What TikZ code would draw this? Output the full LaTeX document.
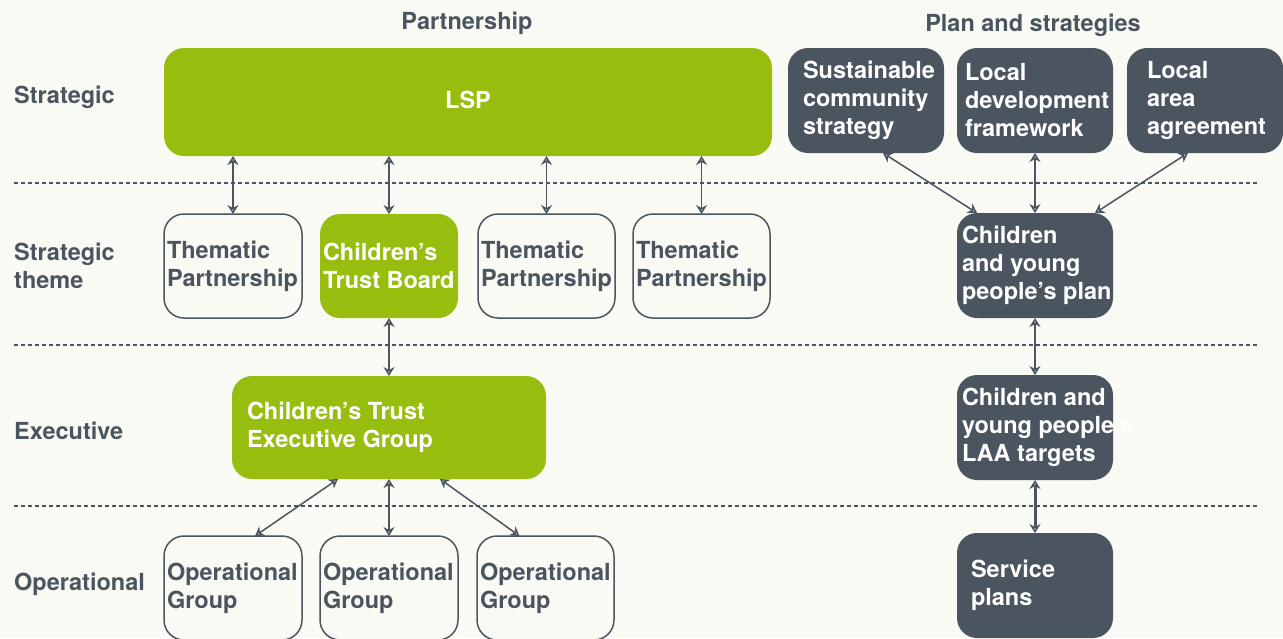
\documentclass[tikz,border=0pt]{standalone}
\usepackage{fontspec}
\setmainfont{TeX Gyre Heros}
\usetikzlibrary{arrows.meta}
\usetikzlibrary{positioning}
\definecolor{lspgreen}{HTML}{97BD0E}
\definecolor{slate}{HTML}{4B5560}
\definecolor{paper}{HTML}{F9FAF3}

\begin{document}
\begin{tikzpicture}[x=1pt, y=-1pt,
    every node/.style={font=\bfseries\fontsize{23.5}{28}\selectfont, text=slate},
    box/.style={rounded corners=20pt, minimum height=104pt, text width=130pt,
      inner xsep=4pt, inner ysep=0pt, outer sep=0pt, align=flush left},
    openbox/.style={box, draw=slate, line width=1.5pt, fill=paper},
    greenbox/.style={box, fill=lspgreen, text=white},
    slatebox/.style={box, fill=slate, text=white, minimum height=105pt},
    rowlabel/.style={anchor=west, align=left, inner sep=0pt},
    link/.style={draw=slate, line width=1.5pt, {Stealth[open, length=9pt, width=11pt, inset=3pt]}-{Stealth[open, length=9pt, width=11pt, inset=3pt]}},
    sep/.style={slate, line width=1.2pt, dash pattern=on 4pt off 3pt}]
      \useasboundingbox (0,0) rectangle (1283,638);
      \clip (0,0) rectangle (1283,638);
      \fill[paper] (0,0) rectangle (1283,638);

      \draw[sep] (14,183) -- (1258,183);
      \draw[sep] (14,345) -- (1258,345);
      \draw[sep] (14,506) -- (1258,506);

      \node (hpart) at (467,23) {Partnership};
      \node (hplan) at (1033,25) {Plan and strategies};

      \node[rowlabel] (rstrat) at (14,97) {Strategic};
      \node[rowlabel] (rtheme) at (14,266) {Strategic\\theme};
      \node[rowlabel] (rexec) at (14,431) {Executive};
      \node[rowlabel] (roper) at (14,584) {Operational};

      \node[greenbox, anchor=north west, text width=600pt, align=center, minimum height=108pt] (lsp) at (164,48) {\raisebox{5pt}{LSP}};

      \node[openbox, anchor=north west, inner xsep=3pt, text width=132pt] (tp1) at (164,214) {Thematic\\Partnership};
      \node[greenbox, inner xsep=3pt, text width=132pt, right=18pt of tp1] (ctb) {Children’s\\Trust Board};
      \node[openbox, inner xsep=3pt, text width=131pt, right=20pt of ctb] (tp2) {Thematic\\Partnership};
      \node[openbox, inner xsep=3pt, text width=131pt, right=18pt of tp2] (tp3) {Thematic\\Partnership};

      \node[greenbox, inner xsep=15pt, text width=284pt, minimum height=103pt, below=58pt of ctb] (cte) {Children’s Trust\\Executive Group};

      \node[openbox, anchor=north west, inner xsep=3pt, text width=132pt] (op1) at (164,536) {Operational\\Group};
      \node[openbox, inner xsep=3pt, text width=132pt, right=18pt of op1] (op2) {Operational\\Group};
      \node[openbox, inner xsep=3pt, text width=131pt, right=19pt of op2] (op3) {Operational\\Group};

      \node[slatebox, anchor=north west, inner xsep=15pt, text width=126pt] (scs) at (788,48) {Sustainable\\community\\strategy};
      \node[slatebox, inner xsep=8pt, text width=140pt, right=13pt of scs] (ldf) {Local\\development\\framework};
      \node[slatebox, inner xsep=20pt, text width=116pt, right=14pt of ldf] (laa) {Local\\area\\agreement};
      \node[slatebox, inner xsep=5pt, text width=146pt, below=60pt of ldf] (cypp) {Children\\and young\\\mbox{people’s plan}};
      \node[slatebox, inner xsep=5pt, text width=146pt, below=57pt of cypp] (laat) {Children and\\\mbox{young people’s}\\LAA targets};
      \node[slatebox, inner xsep=14pt, text width=128pt, below=53pt of laat] (sp) {Service\\plans};

      \draw[link] (lsp.south -| tp1.north) -- (tp1.north);
      \draw[link] (lsp.south -| ctb.north) -- (ctb.north);
      \draw[link] (lsp.south -| tp2.north) -- (tp2.north);
      \draw[link] (lsp.south -| tp3.north) -- (tp3.north);
      \draw[link] (ctb.south) -- (cte.north);
      \draw[link] ([xshift=-51pt]cte.south) -- ([xshift=22pt]op1.north);
      \draw[link] (cte.south) -- (op2.north);
      \draw[link] ([xshift=51pt]cte.south) -- ([xshift=-26pt]op3.north);

      \draw[link] ([xshift=17pt]scs.south) -- ([xshift=-58pt]cypp.north);
      \draw[link] (ldf.south) -- (cypp.north);
      \draw[link] ([xshift=-17pt]laa.south) -- ([xshift=60pt]cypp.north);
      \draw[link] (cypp.south) -- (laat.north);
      \draw[link, line width=3pt] (laat.south) -- (sp.north);
\end{tikzpicture}
\end{document}
